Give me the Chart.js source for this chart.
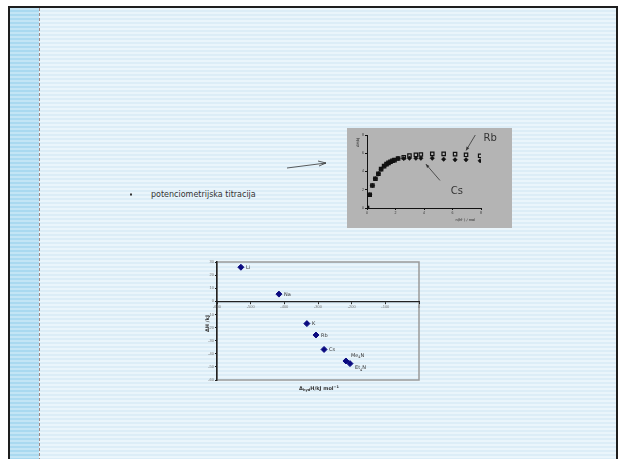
<!DOCTYPE html>
<html>
<head>
<meta charset="utf-8">
<script src="https://cdn.jsdelivr.net/npm/chart.js@4.4.1/dist/chart.umd.min.js"></script>
<style>
  html, body { margin: 0; padding: 0; background: #fff; }
  #slide { position: relative; width: 618px; height: 459px; overflow: hidden; background: #fff; font-family: "DejaVu Sans", sans-serif; }
  #frame { position: absolute; left: 8px; top: 6px; width: 606px; height: 460px; border-left: 2px solid #1e1e1e; border-top: 2px solid #1e1e1e; border-right: 2px solid #1e1e1e;
    background: repeating-linear-gradient(to bottom, #eaf5fb 0 2px, #dcedf7 2px 4px); }
  #band { position: absolute; left: 10px; top: 8px; width: 29px; height: 460px;
    background: repeating-linear-gradient(to bottom, #c3e5f5 0 2px, #a9d9f0 2px 4px); }
  #dash { position: absolute; left: 39px; top: 8px; width: 1px; height: 460px;
    background: repeating-linear-gradient(to bottom, #a08a86 0 3px, transparent 3px 5px); }
  .txt { position: absolute; color: #333; font-size: 8px; white-space: nowrap; }
  #c1 { position: absolute; left: 190px; top: 252px; }
  #c2 { position: absolute; left: 347px; top: 128px; background: #b4b4b4; }
  svg { position: absolute; left: 0; top: 0; }
</style>
</head>
<body>
<div id="slide">
  <div id="frame"></div>
  <div id="band"></div>
  <div id="dash"></div>
  <svg width="618" height="459">
    <rect x="130" y="193.5" width="2" height="2" fill="#333"/>
    <line x1="287" y1="168" x2="326" y2="163" stroke="#333" stroke-width="0.8"/>
    <polyline points="318,161 326,163 319,166" fill="none" stroke="#333" stroke-width="0.8"/>
  </svg>
  <div class="txt" style="left:151px; top:190px;">potenciometrijska titracija</div>
  <canvas id="c2" width="165" height="100"></canvas>
  <canvas id="c1" width="240" height="150"></canvas>
</div>
<script>
// enthalpy correlation (lower chart)
const ions = ['Li', 'Na', 'K', 'Rb', 'Cs', 'Me4N', 'Et4N'];
const hydH = [-529, -416, -333, -306, -282, -217, -205];
const complexH = [26, 5.5, -17, -25.7, -36.7, -45.5, -47.5];

// titration curves (upper chart)
const nM = [0, 0.19, 0.38, 0.59, 0.8, 0.99, 1.2, 1.37, 1.51, 1.65, 1.79, 1.93, 2.18, 2.58, 2.98, 3.43, 3.78, 4.58, 5.38, 6.18, 6.95, 7.94];
const heatRb = [0, 1.45, 2.47, 3.2, 3.75, 4.26, 4.59, 4.81, 4.95, 5.06, 5.17, 5.25, 5.42, 5.57, 5.75, 5.83, 5.86, 5.93, 5.93, 5.9, 5.83, 5.72];
const heatCs = [0, 1.45, 2.47, 3.2, 3.75, 4.26, 4.59, 4.81, 4.95, 5.06, 5.17, 5.25, 5.42, 5.42, 5.46, 5.46, 5.46, 5.46, 5.35, 5.28, 5.28, 5.17];

function subText(ctx, parts, x, y, size, bold) {
  // parts: [text, shift] shift: 0 normal, 1 sub, -1 sup
  let cx = x;
  parts.forEach(p => {
    const s = p[1] === 0 ? size : size * 0.7;
    ctx.font = (bold ? 'bold ' : '') + s + 'px "DejaVu Sans"';
    ctx.fillText(p[0], cx, y + p[1] * size * 0.3);
    cx += ctx.measureText(p[0]).width;
  });
  return cx - x;
}
function measureParts(ctx, parts, size, bold) {
  let w = 0;
  parts.forEach(p => {
    const s = p[1] === 0 ? size : size * 0.7;
    ctx.font = (bold ? 'bold ' : '') + s + 'px "DejaVu Sans"';
    w += ctx.measureText(p[0]).width;
  });
  return w;
}
function ionParts(name) {
  const m = name.match(/^(\D+)(\d)(\D+)$/);
  return m ? [[m[1], 0], [m[2], 1], [m[3], 0]] : [[name, 0]];
}

const framePlugin = {
  id: 'frame',
  beforeDraw(chart) {
    const a = chart.chartArea, ctx = chart.ctx;
    ctx.save();
    ctx.strokeStyle = '#9a9a9a';
    ctx.lineWidth = 1.5;
    ctx.strokeRect(a.left, a.top, a.right - a.left, a.bottom - a.top);
    ctx.restore();
  },
  afterDatasetsDraw(chart) {
    const ctx = chart.ctx, xs = chart.scales.x, ys = chart.scales.y, a = chart.chartArea;
    ctx.save();
    ctx.fillStyle = '#333';
    ctx.textBaseline = 'middle';
    ions.forEach((ion, i) => {
      const px = xs.getPixelForValue(hydH[i]);
      const py = ys.getPixelForValue(complexH[i]);
      let dy = 0;
      if (ion === 'Me4N') dy = -6;
      if (ion === 'Et4N') dy = 4;
      subText(ctx, ionParts(ion), px + 5, py + dy + 0.5, 5, false);
    });
    // x title
    const xt = [['Δ', 0], ['hyd', 1], ['H/kJ mol', 0], ['−1', -1]];
    const w = measureParts(ctx, xt, 5, true);
    subText(ctx, xt, (a.left + a.right) / 2 - w / 2 + 1, a.bottom + 9, 5, true);
    // y title
    ctx.translate(a.left - 9, ys.getPixelForValue(-17));
    ctx.rotate(-Math.PI / 2);
    ctx.textAlign = 'center';
    ctx.font = 'bold 5px "DejaVu Sans"';
    ctx.fillText('ΔH /kJ', 0, 0);
    ctx.restore();
  }
};

new Chart(document.getElementById('c1'), {
  type: 'scatter',
  data: {
    datasets: [{
      data: hydH.map((v, i) => ({x: v, y: complexH[i]})),
      pointStyle: 'rectRot',
      pointRadius: 3,
      backgroundColor: '#0a0a80',
      borderColor: '#0a0a80',
      borderWidth: 1
    }]
  },
  options: {
    responsive: false,
    animation: false,
    layout: {padding: {left: 0, top: 10, right: 11, bottom: 22}},
    plugins: {legend: {display: false}, tooltip: {enabled: false}},
    scales: {
      x: {
        type: 'linear', position: {y: 0}, min: -600, max: 0,
        ticks: {stepSize: 100, font: {size: 4}, color: '#777', padding: 1, maxRotation: 0},
        grid: {drawOnChartArea: false, tickLength: 2, color: '#222'},
        border: {color: '#222', width: 1.2}
      },
      y: {
        min: -60, max: 30,
        ticks: {stepSize: 10, font: {size: 4}, color: '#777', padding: 1},
        grid: {drawOnChartArea: false, tickLength: 2, color: '#222'},
        border: {color: '#222', width: 1.5},
        afterFit(s) { s.width = 27; }
      }
    }
  },
  plugins: [framePlugin]
});

function arrow(ctx, x1, y1, x2, y2) {
  ctx.beginPath();
  ctx.moveTo(x1, y1);
  ctx.lineTo(x2, y2);
  ctx.stroke();
  const ang = Math.atan2(y2 - y1, x2 - x1);
  ctx.beginPath();
  ctx.moveTo(x2, y2);
  ctx.lineTo(x2 - 4 * Math.cos(ang - 0.4), y2 - 4 * Math.sin(ang - 0.4));
  ctx.lineTo(x2 - 4 * Math.cos(ang + 0.4), y2 - 4 * Math.sin(ang + 0.4));
  ctx.closePath();
  ctx.fill();
}

const notePlugin = {
  id: 'notes',
  afterDatasetsDraw(chart) {
    const ctx = chart.ctx, xs = chart.scales.x, ys = chart.scales.y, a = chart.chartArea;
    const X = v => xs.getPixelForValue(v), Y = v => ys.getPixelForValue(v);
    ctx.save();
    ctx.strokeStyle = '#333';
    ctx.fillStyle = '#333';
    ctx.lineWidth = 0.8;
    arrow(ctx, X(7.6), Y(8.0), X(6.95), Y(6.3));
    arrow(ctx, X(5.12), Y(3.02), X(4.13), Y(4.81));
    ctx.font = '10px "DejaVu Sans"';
    ctx.textAlign = 'center';
    ctx.textBaseline = 'middle';
    ctx.fillText('Rb', X(8.64), Y(7.65));
    ctx.fillText('Cs', X(6.3), Y(1.81));
    // axis titles
    ctx.font = '3.5px "DejaVu Sans"';
    ctx.fillStyle = '#222';
    ctx.fillText('n(M⁺) / mol', X(6.9), a.bottom + 12);
    ctx.translate(a.left - 9, Y(7.2));
    ctx.rotate(-Math.PI / 2);
    ctx.fillText('ΔH/kJ', 0, 0);
    ctx.restore();
  }
};

new Chart(document.getElementById('c2'), {
  type: 'scatter',
  data: {
    datasets: [{
      label: 'Cs',
      data: nM.map((v, i) => ({x: v, y: heatCs[i]})),
      pointStyle: 'rectRot', pointRadius: 2.2,
      backgroundColor: '#111', borderColor: '#111', borderWidth: 0.5
    }, {
      label: 'Rb',
      data: nM.map((v, i) => ({x: v, y: heatRb[i]})),
      pointStyle: 'rect', pointRadius: 2.4,
      backgroundColor: '#b4b4b4', borderColor: '#111', borderWidth: 1.2
    }]
  },
  options: {
    responsive: false,
    animation: false,
    layout: {padding: {left: 0, top: 7, right: 31, bottom: 0}},
    plugins: {legend: {display: false}, tooltip: {enabled: false}},
    scales: {
      x: {
        type: 'linear', min: 0, max: 8,
        ticks: {stepSize: 2, font: {size: 3.5}, color: '#333', padding: 1, maxRotation: 0},
        grid: {drawOnChartArea: false, tickLength: 2, color: '#111'},
        border: {color: '#111', width: 1},
        afterFit(s) { s.height = 20; }
      },
      y: {
        min: 0, max: 8,
        ticks: {stepSize: 2, font: {size: 3.5}, color: '#333', padding: 1},
        grid: {drawOnChartArea: false, tickLength: 2, color: '#111'},
        border: {color: '#111', width: 1},
        afterFit(s) { s.width = 20; }
      }
    }
  },
  plugins: [notePlugin]
});
</script>
</body>
</html>
